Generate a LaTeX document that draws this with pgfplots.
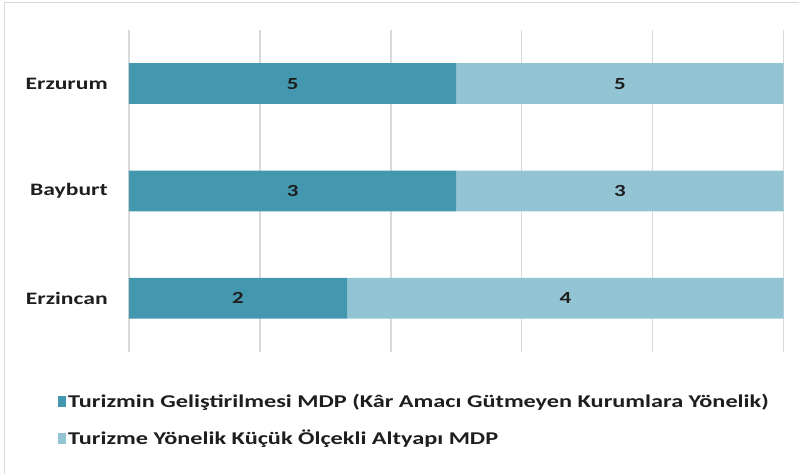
\documentclass[border=0pt]{standalone}
\usepackage{fontspec}
\setmainfont{Carlito}[FakeStretch=1.35]
\usepackage{pgfplots}
\pgfplotsset{compat=1.18}
\definecolor{dk}{RGB}{67,151,174}
\definecolor{lt}{RGB}{147,196,211}
\definecolor{gridc}{RGB}{217,217,217}
\definecolor{txt}{RGB}{30,30,30}
\begin{document}
\begin{tikzpicture}[x=1pt,y=1pt]
\path (0,0) rectangle (799,474);
\draw[gridc, line width=1pt] (5,0) -- (5,471) -- (799,471);
\begin{axis}[at={(129pt,122pt)}, anchor=south west, scale only axis, width=655pt, height=322pt,
 xbar stacked, bar width=0.38, xmin=0, xmax=100, ymin=-0.5, ymax=2.5,
 xtick={0,20,...,100}, xticklabels={}, xmajorgrids, grid style={gridc, line width=1.5pt},
 ytick={0,1,2}, yticklabels={Erzincan,Bayburt,Erzurum},
 axis line style={draw=none}, major tick length=0pt,
 yticklabel style={font=\fontsize{17.5}{20}\selectfont\bfseries, text=txt, inner sep=0pt, xshift=-21pt},
 point meta=explicit,
 nodes near coords={\pgfmathprintnumber[assume math mode=true]{\pgfplotspointmeta}},
 every node near coord/.append style={font=\fontsize{17}{20}\selectfont\bfseries, text=txt, anchor=center},
 legend style={at={(axis description cs:0,0)}, anchor=north west, xshift=-71pt, yshift=-40pt, draw=none, fill=none, font=\fontsize{18}{20}\selectfont\bfseries, text=txt, row sep=17.5pt, cells={anchor=west}, inner sep=0pt},
 legend image code/.code={\fill[#1] (0pt,-5.5pt) rectangle (8pt,5.5pt);},
]
\addplot[fill=dk, draw=none] coordinates {(33.333,0) [2] (50,1) [3] (50,2) [5]};
\addplot[fill=lt, draw=none] coordinates {(66.667,0) [4] (50,1) [3] (50,2) [5]};
\legend{Turizmin Geliştirilmesi MDP (Kâr Amacı Gütmeyen Kurumlara Yönelik), Turizme Yönelik Küçük Ölçekli Altyapı MDP}
\end{axis}
\end{tikzpicture}
\end{document}
